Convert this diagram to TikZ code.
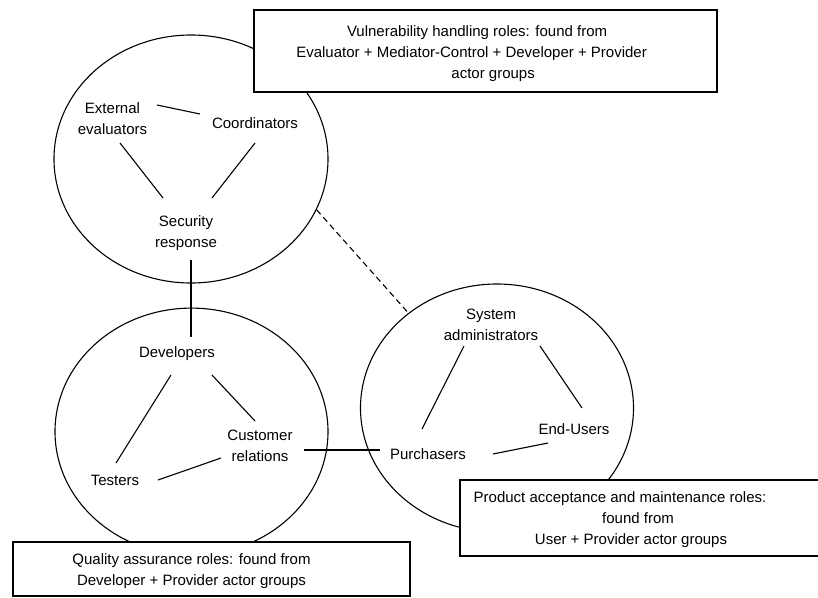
\documentclass[tikz,border=0pt]{standalone}
\usepackage{fontspec}
\setmainfont{Liberation Sans}
\usetikzlibrary{shapes.geometric}
\begin{document}
\begin{tikzpicture}[x=1pt,y=-1pt,
  lbl/.style={font=\fontsize{15}{21}\selectfont, align=center, inner sep=0pt},
  role/.style={draw, ellipse, line width=1.1pt, inner sep=0pt},
  link/.style={line width=1.1pt},
  rolebox/.style={draw, fill=white, line width=1.1pt, inner sep=0pt},
]
\useasboundingbox (0,0) rectangle (818,597);
% groups
\node[role, minimum width=274pt, minimum height=248pt] (e1) at (191,159) {};
\node[role, minimum width=273pt, minimum height=247pt] (e2) at (191.5,431.6) {};
\node[role, minimum width=273pt, minimum height=248pt] (e3) at (497,408) {};
% roles
\node[lbl] (ee) at (112.5,119) {External\\evaluators};
\node[lbl] (co) at (255,123) {Coordinators};
\node[lbl] (sr) at (186,233) {Security\\response};
\node[lbl] (dev) at (177,354) {Developers};
\node[lbl] (cr) at (260,446) {Customer\\relations};
\node[lbl] (tes) at (115,480) {Testers};
\node[lbl] (sa) at (491,325) {System\\administrators};
\node[lbl] (eu) at (574,429) {End-Users};
\node[lbl] (pur) at (428,454) {Purchasers};
% links
\draw[link] ([shift={(44.5,-14)}]ee.center) -- ([shift={(-55,-9)}]co.center);
\draw[link] ([shift={(7.5,24)}]ee.center) -- ([shift={(-23,-35)}]sr.center);
\draw[link] ([shift={(0,20)}]co.center) -- ([shift={(26,-35)}]sr.center);
\draw[link] ([shift={(5,27)}]sr.center) -- ([shift={(14,-17)}]dev.center);
\draw[link] ([shift={(-6,21)}]dev.center) -- ([shift={(1,-17)}]tes.center);
\draw[link] ([shift={(35,21)}]dev.center) -- ([shift={(-5,-25)}]cr.center);
\draw[link] ([shift={(43,0)}]tes.center) -- ([shift={(-39,12)}]cr.center);
\draw[link] ([shift={(44,4)}]cr.center) -- ([shift={(-48,-4)}]pur.center);
\draw[link] ([shift={(-27,21)}]sa.center) -- ([shift={(-6,-25)}]pur.center);
\draw[link] ([shift={(49,21)}]sa.center) -- ([shift={(8,-21)}]eu.center);
\draw[link] ([shift={(65,0)}]pur.center) -- ([shift={(-26,14)}]eu.center);
\draw[link, dash pattern=on 6pt off 4pt] (e1.-22.2) -- (e3.133.5);
% boxes
\node[rolebox, minimum width=463pt, minimum height=82pt] (vbox) at (485.5,51) {};
\node[lbl] (vtext) at (471.6,53.6) {\hspace*{11pt}Vulnerability handling roles: found from\\Evaluator + Mediator-Control + Developer + Provider\\\hspace*{43pt}actor groups};
\node[rolebox, minimum width=397pt, minimum height=54pt] (qbox) at (211.5,569) {};
\node[lbl] (qtext) at (191.5,571.6) {Quality assurance roles: found from\\Developer + Provider actor groups};
\node[rolebox, minimum width=370pt, minimum height=76pt] (pbox) at (645,518) {};
\node[lbl] (ptext) at (620,519.6) {Product acceptance and maintenance roles:\\\hspace*{36pt}found from\\\hspace*{22pt}User + Provider actor groups};
\end{tikzpicture}
\end{document}
